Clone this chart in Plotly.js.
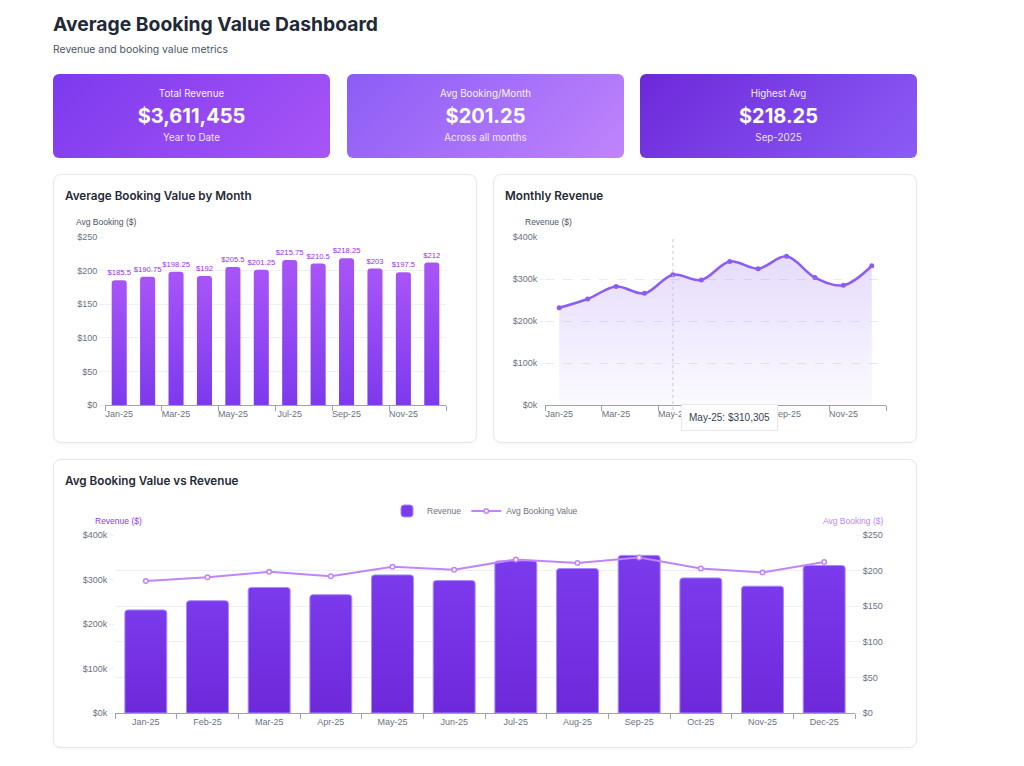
<!DOCTYPE html>
<html><head><meta charset="utf-8">
<script src="https://cdn.plot.ly/plotly-3.0.1.min.js"></script>
<style>
body{margin:0;background:#fff;font-family:Inter,"Noto Sans",sans-serif;}
#page{position:relative;width:1024px;height:766px;overflow:hidden;}
.h1{position:absolute;left:53px;top:11px;font-size:19.3px;line-height:26px;font-weight:700;color:#1f2937;}
.sub{position:absolute;left:53px;top:43px;font-size:10.4px;line-height:14px;color:#4b5563;}
.card{position:absolute;top:74px;width:277px;height:84px;border-radius:6px;color:#fff;text-align:center;}
.card .l{position:absolute;top:14px;width:100%;font-size:9.8px;line-height:12px;opacity:.92}
.card .v{position:absolute;top:29px;width:100%;font-size:20px;line-height:26px;font-weight:700}
.card .s{position:absolute;top:58px;width:100%;font-size:9.8px;line-height:12px;opacity:.85}
.panel{position:absolute;background:#fff;border:1px solid #e5e7eb;border-radius:8px;box-sizing:border-box;box-shadow:0 1px 3px rgba(0,0,0,.04);}
.ptitle{position:absolute;left:11px;top:13px;font-size:11.7px;line-height:16px;font-weight:600;color:#1f2937;}
.plot{position:absolute;left:-1px;top:-1px;}
</style>
</head><body>
<div id="page">
  <div class="h1">Average Booking Value Dashboard</div>
  <div class="sub">Revenue and booking value metrics</div>
  <div class="card" style="left:53px;background:linear-gradient(135deg,#7c3aed 0%,#a855f7 100%);">
    <div class="l" id="k1l"></div><div class="v" id="k1v"></div><div class="s" id="k1s"></div></div>
  <div class="card" style="left:347px;background:linear-gradient(135deg,#8b5cf6 0%,#c084fc 100%);">
    <div class="l" id="k2l"></div><div class="v" id="k2v"></div><div class="s" id="k2s"></div></div>
  <div class="card" style="left:640px;background:linear-gradient(135deg,#6d28d9 0%,#8b5cf6 100%);">
    <div class="l" id="k3l"></div><div class="v" id="k3v"></div><div class="s" id="k3s"></div></div>

  <div class="panel" style="left:53px;top:174px;width:424px;height:269px;">
    <div class="plot" id="c1"></div>
    <div class="ptitle">Average Booking Value by Month</div>
  </div>
  <div class="panel" style="left:493px;top:174px;width:424px;height:269px;">
    <div class="plot" id="c2"></div>
    <div class="ptitle">Monthly Revenue</div>
  </div>
  <div class="panel" style="left:53px;top:459px;width:864px;height:289px;">
    <div class="plot" id="c3"></div>
    <div class="ptitle">Avg Booking Value vs Revenue</div>
  </div>
</div>
<script>
// ---- data ----
const months = ['Jan-25','Feb-25','Mar-25','Apr-25','May-25','Jun-25','Jul-25','Aug-25','Sep-25','Oct-25','Nov-25','Dec-25'];
const avgBooking = [185.5,190.75,198.25,192,205.5,201.25,215.75,210.5,218.25,203,197.5,212];
const revenue = [231500,252300,282100,265800,310305,297600,341800,324600,354200,303500,285000,331500];
const revTickVals = [0,100000,200000,300000,400000];
const revTickText = ['$0k','$100k','$200k','$300k','$400k'];
const kpiLabels = ['Total Revenue','Avg Booking/Month','Highest Avg'];
const kpiValues = ['$3,611,455','$201.25','$218.25'];
const kpiSubs = ['Year to Date','Across all months','Sep-2025'];
const tooltipIndex = 4;

kpiLabels.forEach((t,i)=>{
  document.getElementById('k'+(i+1)+'l').textContent=t;
  document.getElementById('k'+(i+1)+'v').textContent=kpiValues[i];
  document.getElementById('k'+(i+1)+'s').textContent=kpiSubs[i];
});

const FF='"Liberation Sans", Arial, sans-serif';
const tickFont={family:FF,size:9,color:'#6b7280'};
const cfg={staticPlot:true,displayModeBar:false};
const xRange=[-0.5, months.length-0.5];

function gradBars(gd,id,top,bottom){
  const ns='http://www.w3.org/2000/svg';
  const svg=gd.querySelector('svg.main-svg');
  let defs=svg.querySelector('defs');
  if(!defs){defs=document.createElementNS(ns,'defs');svg.insertBefore(defs,svg.firstChild);}
  const lg=document.createElementNS(ns,'linearGradient');
  lg.setAttribute('id',id);lg.setAttribute('x1','0');lg.setAttribute('y1','0');lg.setAttribute('x2','0');lg.setAttribute('y2','1');
  [[0,top],[1,bottom]].forEach(([o,c])=>{const s=document.createElementNS(ns,'stop');s.setAttribute('offset',o);s.setAttribute('stop-color',c);lg.appendChild(s);});
  defs.appendChild(lg);
  gd.querySelectorAll('.barlayer .point path').forEach(p=>{p.style.fill='url(#'+id+')';});
}

const catAxis=(extra)=>Object.assign({type:'category',range:xRange,tickson:'boundaries',ticks:'outside',ticklen:5,tickcolor:'#9ca3af',
    tickangle:0,showline:true,linecolor:'#9ca3af',showgrid:false,tickfont:tickFont,fixedrange:true},extra||{});

// ---- chart 1 ----
Plotly.newPlot('c1',[{
  type:'bar',x:months,y:avgBooking,
  marker:{color:'#9333ea',cornerradius:3},
  texttemplate:'$%{y:.2~f}',textposition:'outside',cliponaxis:false,constraintext:'none',
  textfont:{family:FF,size:7.7,color:'#9333ea'},hoverinfo:'none'
}],{
  width:424,height:269,margin:{l:52,r:31,t:63,b:38},
  paper_bgcolor:'rgba(0,0,0,0)',plot_bgcolor:'rgba(0,0,0,0)',
  bargap:0.47,showlegend:false,font:{family:FF},
  xaxis:catAxis({tick0:0,dtick:2}),
  yaxis:{range:[0,250],dtick:50,tickprefix:'$',gridcolor:'#eef0f4',ticks:'outside',ticklen:5,tickcolor:'#eef0f4',
    zeroline:false,showline:false,tickfont:tickFont,fixedrange:true},
  annotations:[{text:'Avg Booking ($)',xref:'paper',yref:'paper',x:-0.09,y:1.089,xanchor:'left',yanchor:'middle',
    showarrow:false,font:{family:FF,size:8.5,color:'#4b5563'}}]
},cfg).then(gd=>gradBars(gd,'g1','#a855f7','#7c3aed'));

// ---- chart 2 ----
const ttText = months[tooltipIndex]+': $'+revenue[tooltipIndex].toLocaleString('en-US');
Plotly.newPlot('c2',[{
  type:'scatter',x:months,y:revenue,mode:'lines+markers',
  line:{shape:'spline',smoothing:1,color:'#8b5cf6',width:2.5},
  marker:{size:5,color:'#8b5cf6'},
  fill:'tozeroy',
  fillgradient:{type:'vertical',start:0,stop:360000,colorscale:[[0,'rgba(139,92,246,0.03)'],[1,'rgba(139,92,246,0.22)']]},
  hoverinfo:'none'
}],{
  width:424,height:269,margin:{l:52,r:31,t:63,b:38},
  paper_bgcolor:'rgba(0,0,0,0)',plot_bgcolor:'rgba(0,0,0,0)',
  showlegend:false,font:{family:FF},
  xaxis:catAxis({tick0:0,dtick:2}),
  yaxis:{range:[0,400000],tickvals:revTickVals,ticktext:revTickText,gridcolor:'#e9eaef',griddash:'dash',
    ticks:'outside',ticklen:5,tickcolor:'#eef0f4',zeroline:false,showline:false,tickfont:tickFont,fixedrange:true},
  shapes:[{type:'line',xref:'x',yref:'paper',x0:months[tooltipIndex],x1:months[tooltipIndex],y0:-0.03,y1:1,
    line:{color:'#c7c9cf',width:1,dash:'dot'}}],
  annotations:[
    {text:'Revenue ($)',xref:'paper',yref:'paper',x:-0.0645,y:1.089,xanchor:'left',yanchor:'middle',
      showarrow:false,font:{family:FF,size:8.5,color:'#4b5563'}},
    {text:ttText,xref:'x',yref:'paper',x:months[tooltipIndex],xshift:8,y:0.005,xanchor:'left',yanchor:'top',
      showarrow:false,bgcolor:'#ffffff',bordercolor:'#e5e7eb',borderwidth:1,borderpad:7,
      font:{family:FF,size:10,color:'#374151'}}
  ]
},cfg);

// ---- chart 3 ----
Plotly.newPlot('c3',[{
  type:'bar',x:months,y:revenue,name:'Revenue',
  marker:{color:'#7c3aed',line:{color:'#a78bfa',width:1},cornerradius:3},hoverinfo:'none'
},{
  type:'scatter',x:months,y:avgBooking,name:'Avg Booking Value',yaxis:'y2',mode:'lines+markers',
  line:{color:'#c084fc',width:2},marker:{size:4.5,color:'#ffffff',line:{color:'#c084fc',width:1.5}},hoverinfo:'none'
}],{
  width:864,height:289,margin:{l:62,r:62,t:76,b:35},
  paper_bgcolor:'rgba(0,0,0,0)',plot_bgcolor:'rgba(0,0,0,0)',
  bargap:0.32,font:{family:FF},
  showlegend:true,
  legend:{orientation:'h',x:0.5,xanchor:'center',y:1.135,yanchor:'middle',font:{family:FF,size:8.5,color:'#6b7280'},
    itemwidth:30,bgcolor:'rgba(0,0,0,0)'},
  xaxis:catAxis(),
  yaxis:{range:[0,400000],tickvals:revTickVals,ticktext:revTickText,showgrid:false,
    ticks:'outside',ticklen:5,tickcolor:'#eef0f4',zeroline:false,showline:false,tickfont:tickFont,fixedrange:true},
  yaxis2:{range:[0,250],dtick:50,tickprefix:'$',overlaying:'y',side:'right',gridcolor:'#eef0f4',showgrid:true,
    ticks:'outside',ticklen:5,tickcolor:'#eef0f4',zeroline:false,showline:false,tickfont:tickFont,fixedrange:true},
  annotations:[
    {text:'Revenue ($)',xref:'paper',yref:'paper',x:-0.0297,y:1.079,xanchor:'left',yanchor:'middle',
      showarrow:false,font:{family:FF,size:8.5,color:'#9333ea'}},
    {text:'Avg Booking ($)',xref:'paper',yref:'paper',x:1.0405,y:1.079,xanchor:'right',yanchor:'middle',
      showarrow:false,font:{family:FF,size:8.5,color:'#c084fc'}}
  ]
},cfg).then(gd=>gradBars(gd,'g3','#7c3aed','#6d28d9'));
</script>
</body></html>
